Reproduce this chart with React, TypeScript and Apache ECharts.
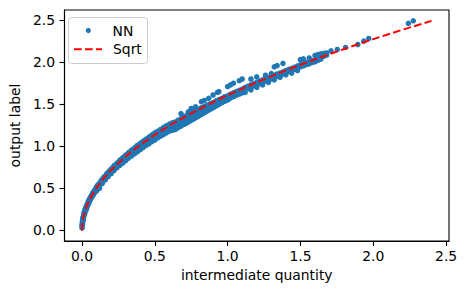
import React, { useEffect, useRef } from "react";
import * as echarts from "echarts";

// Sqrt reference curve
const sqrtX = [0, 0.0004, 0.002, 0.005, 0.01, 0.02, 0.03, 0.05, 0.075, 0.1, 0.15, 0.2, 0.3, 0.4, 0.5, 0.6, 0.7, 0.8, 0.9, 1.0, 1.2, 1.4, 1.6, 1.8, 2.0, 2.2, 2.4];
const sqrtY = [0, 0.032, 0.072, 0.114, 0.161, 0.227, 0.279, 0.36, 0.44, 0.508, 0.623, 0.719, 0.881, 1.017, 1.137, 1.246, 1.345, 1.438, 1.525, 1.608, 1.761, 1.903, 2.034, 2.157, 2.274, 2.385, 2.491];

// NN scatter points, [x, y]
const nnNearZero = [
  [0.0005, 0.03], [0.001, 0.06], [0.0015, 0.045], [0.002, 0.08], [0.003, 0.07], [0.003, 0.1], [0.004, 0.12], [0.005, 0.09],
  [0.006, 0.13], [0.007, 0.15], [0.008, 0.12], [0.009, 0.16], [0.01, 0.17], [0.011, 0.14], [0.012, 0.19], [0.014, 0.18],
  [0.015, 0.21], [0.017, 0.19], [0.018, 0.23], [0.02, 0.21], [0.021, 0.25], [0.023, 0.23], [0.025, 0.27], [0.027, 0.24],
  [0.029, 0.28], [0.031, 0.26], [0.033, 0.3], [0.035, 0.28], [0.038, 0.32], [0.04, 0.3], [0.043, 0.345], [0.045, 0.32],
  [0.048, 0.36], [0.05, 0.34], [0.054, 0.385], [0.056, 0.36], [0.06, 0.4], [0.062, 0.38], [0.066, 0.42], [0.069, 0.4],
  [0.073, 0.445], [0.076, 0.42], [0.08, 0.46], [0.083, 0.44], [0.087, 0.48], [0.09, 0.46], [0.095, 0.5], [0.098, 0.48],
];

// rows: [x, y values at that x...]
const nnLow = [
  [0.1, 0.52, 0.49, 0.47], [0.11, 0.545, 0.51], [0.12, 0.56, 0.53, 0.5], [0.13, 0.59, 0.55], [0.14, 0.61, 0.58, 0.56],
  [0.15, 0.635, 0.6], [0.16, 0.65, 0.62, 0.6], [0.17, 0.675, 0.64], [0.18, 0.69, 0.66, 0.64], [0.19, 0.71, 0.68],
  [0.2, 0.73, 0.7, 0.675], [0.21, 0.745, 0.71], [0.22, 0.77, 0.735, 0.71], [0.23, 0.78, 0.75], [0.24, 0.8, 0.77, 0.745],
  [0.25, 0.81, 0.78], [0.26, 0.835, 0.8, 0.775], [0.27, 0.845, 0.81], [0.28, 0.865, 0.83, 0.8], [0.29, 0.875, 0.845],
  [0.3, 0.895, 0.86, 0.83], [0.31, 0.905, 0.87], [0.32, 0.925, 0.89, 0.86], [0.33, 0.935, 0.9], [0.34, 0.955, 0.92, 0.885],
  [0.35, 0.96, 0.93], [0.36, 0.98, 0.945, 0.91], [0.37, 0.99, 0.955], [0.38, 1.01, 0.97, 0.935], [0.39, 1.015, 0.985],
  [0.4, 1.035, 0.995, 0.96], [0.41, 1.045, 1.005], [0.42, 1.06, 1.02, 0.985], [0.43, 1.07, 1.03], [0.44, 1.085, 1.045, 1.01],
  [0.45, 1.09, 1.055], [0.46, 1.11, 1.07, 1.03], [0.47, 1.115, 1.08], [0.48, 1.135, 1.09, 1.055], [0.49, 1.14, 1.1],
  [0.5, 1.16, 1.115, 1.075], [0.52, 1.18, 1.135, 1.1], [0.54, 1.2, 1.16, 1.12], [0.56, 1.225, 1.18, 1.14],
  [0.58, 1.245, 1.2, 1.16], [0.6, 1.265, 1.22, 1.18],
];

const nnMid = [
  [0.62, 1.28, 1.23, 1.19], [0.63, 1.255, 1.21], [0.64, 1.29, 1.24, 1.2], [0.65, 1.27, 1.22], [0.66, 1.31, 1.26, 1.22],
  [0.67, 1.29, 1.24], [0.68, 1.33, 1.28, 1.24, 1.39], [0.69, 1.3, 1.26], [0.7, 1.35, 1.3, 1.26], [0.71, 1.32, 1.27],
  [0.72, 1.37, 1.33, 1.28], [0.73, 1.34, 1.29, 1.41], [0.74, 1.385, 1.35, 1.3], [0.75, 1.36, 1.31, 1.45],
  [0.76, 1.4, 1.37, 1.32], [0.77, 1.38, 1.33], [0.78, 1.42, 1.385, 1.34, 1.47], [0.79, 1.4, 1.35], [0.8, 1.44, 1.41, 1.36],
  [0.81, 1.42, 1.37], [0.82, 1.46, 1.43, 1.38, 1.53], [0.83, 1.44, 1.39], [0.84, 1.475, 1.45, 1.4, 1.545], [0.85, 1.46, 1.41],
  [0.86, 1.49, 1.47, 1.42], [0.87, 1.48, 1.43, 1.57], [0.88, 1.505, 1.47, 1.44], [0.89, 1.49, 1.45],
  [0.9, 1.52, 1.49, 1.46, 1.61], [0.91, 1.5, 1.47], [0.92, 1.54, 1.51, 1.48], [0.93, 1.52, 1.49, 1.64],
  [0.94, 1.555, 1.53, 1.5, 1.65], [0.95, 1.54, 1.51], [0.96, 1.57, 1.55, 1.52], [0.97, 1.56, 1.53], [0.98, 1.59, 1.56, 1.535],
  [0.99, 1.58, 1.55], [1.0, 1.6, 1.575, 1.55, 1.71], [1.01, 1.59, 1.565], [1.02, 1.62, 1.6, 1.575, 1.73], [1.03, 1.61, 1.59],
  [1.04, 1.635, 1.615, 1.59, 1.75], [1.05, 1.625, 1.6], [1.06, 1.65, 1.63, 1.61], [1.07, 1.64, 1.62],
  [1.08, 1.665, 1.645, 1.62, 1.78], [1.1, 1.68, 1.66, 1.635, 1.8],
];

const nnHigh = [
  [1.12, 1.7, 1.67, 1.64], [1.14, 1.715, 1.69], [1.16, 1.73, 1.7, 1.67, 1.8], [1.18, 1.745, 1.72], [1.2, 1.76, 1.73, 1.7, 1.825],
  [1.22, 1.775, 1.745], [1.24, 1.79, 1.76, 1.73], [1.26, 1.8, 1.775, 1.845], [1.28, 1.815, 1.79, 1.76], [1.3, 1.83, 1.8, 1.865],
  [1.32, 1.845, 1.82, 1.79, 1.945], [1.34, 1.86, 1.83, 1.96], [1.36, 1.87, 1.845, 1.82], [1.38, 1.885, 1.86, 1.985],
  [1.4, 1.9, 1.875, 1.85], [1.42, 1.915, 1.89], [1.44, 1.925, 1.9, 1.87], [1.46, 1.94, 1.915], [1.48, 1.955, 1.93, 1.9],
  [1.5, 1.97, 1.945, 2.03], [1.52, 1.98, 1.955, 2.04], [1.54, 1.995, 1.97], [1.56, 2.0, 1.98, 2.05], [1.58, 2.02, 1.995],
  [1.6, 2.03, 2.005, 2.08], [1.62, 2.045, 2.02, 2.09], [1.64, 2.06, 2.035, 2.1], [1.66, 2.07, 2.105], [1.68, 2.085, 2.11],
  [1.71, 2.135],
];

const nnSparse = [
  [1.753, 2.151], [1.81, 2.175], [1.894, 2.21], [1.935, 2.25], [1.969, 2.282], [2.241, 2.461], [2.275, 2.492],
];

const xTicks = [0, 0.5, 1.0, 1.5, 2.0, 2.5];
const yTicks = [0, 0.5, 1.0, 1.5, 2.0, 2.5];

const FONT = "DejaVu Sans";
const FS = 13.9;

function expandRows(rows: number[][]): number[][] {
  const out: number[][] = [];
  rows.forEach((r) => {
    for (let i = 1; i < r.length; i++) out.push([r[0], r[i]]);
  });
  return out;
}

export default function App() {
  const ref = useRef<HTMLDivElement>(null);
  useEffect(() => {
    if (!ref.current) return;
    const chart = echarts.init(ref.current, undefined, { renderer: "svg" });
    const nnData = [
      ...nnNearZero,
      ...expandRows(nnLow),
      ...expandRows(nnMid),
      ...expandRows(nnHigh),
      ...nnSparse,
    ];
    const lineData = sqrtX.map((x, i) => [x, sqrtY[i]]);
    const labelStyle = { color: "#000", fontFamily: FONT, fontSize: FS };
    chart.setOption({
      animation: false,
      backgroundColor: "#fff",
      grid: { left: 61, top: 10, right: 18, bottom: 53, show: true, borderColor: "#000", borderWidth: 1.1, containLabel: false },
      xAxis: {
        type: "value",
        min: -0.12,
        max: 2.52,
        name: "intermediate quantity",
        nameLocation: "middle",
        nameGap: 27,
        nameTextStyle: labelStyle,
        axisLine: { show: true, onZero: false, lineStyle: { color: "#000", width: 1.1 } },
        axisTick: { show: true, length: 5, lineStyle: { color: "#000", width: 1.1 }, customValues: xTicks },
        axisLabel: { ...labelStyle, margin: 8, customValues: xTicks, formatter: (v: number) => v.toFixed(1) },
        splitLine: { show: false },
      },
      yAxis: {
        type: "value",
        min: -0.125,
        max: 2.62,
        name: "output label",
        nameLocation: "middle",
        nameGap: 38,
        nameTextStyle: labelStyle,
        axisLine: { show: true, onZero: false, lineStyle: { color: "#000", width: 1.1 } },
        axisTick: { show: true, length: 5, lineStyle: { color: "#000", width: 1.1 }, customValues: yTicks },
        axisLabel: { ...labelStyle, margin: 9.5, customValues: yTicks, formatter: (v: number) => v.toFixed(1) },
        splitLine: { show: false },
      },
      series: [
        {
          name: "NN",
          type: "scatter",
          data: nnData,
          symbol: "circle",
          symbolSize: 5.5,
          itemStyle: { color: "#1f77b4", opacity: 1 },
          z: 2,
        },
        {
          name: "Sqrt",
          type: "line",
          data: lineData,
          showSymbol: false,
          symbol: "none",
          lineStyle: { color: "#ff0000", width: 2, type: [7.7, 3.3] },
          z: 3,
        },
      ],
      graphic: [
        {
          type: "rect",
          shape: { x: 68.5, y: 17.5, width: 79, height: 46, r: 3 },
          style: { fill: "rgba(255,255,255,0.8)", stroke: "#cccccc", lineWidth: 1 },
          z: 10,
        },
        { type: "circle", shape: { cx: 88.3, cy: 30.5, r: 2.6 }, style: { fill: "#1f77b4" }, z: 11 },
        {
          type: "line",
          shape: { x1: 74, y1: 49.3, x2: 102, y2: 49.3 },
          style: { stroke: "#ff0000", lineWidth: 2, lineDash: [7.7, 3.3] },
          z: 11,
        },
        {
          type: "text",
          x: 112.5,
          y: 30.5,
          style: { text: "NN", fill: "#000", font: `${FS}px ${FONT}`, verticalAlign: "middle", align: "left" },
          z: 11,
        },
        {
          type: "text",
          x: 113,
          y: 49.3,
          style: { text: "Sqrt", fill: "#000", font: `${FS}px ${FONT}`, verticalAlign: "middle", align: "left" },
          z: 11,
        },
      ],
    });
    return () => chart.dispose();
  }, []);
  return <div ref={ref} style={{ position: "fixed", left: 0, top: 0, width: 467, height: 294 }} />;
}
